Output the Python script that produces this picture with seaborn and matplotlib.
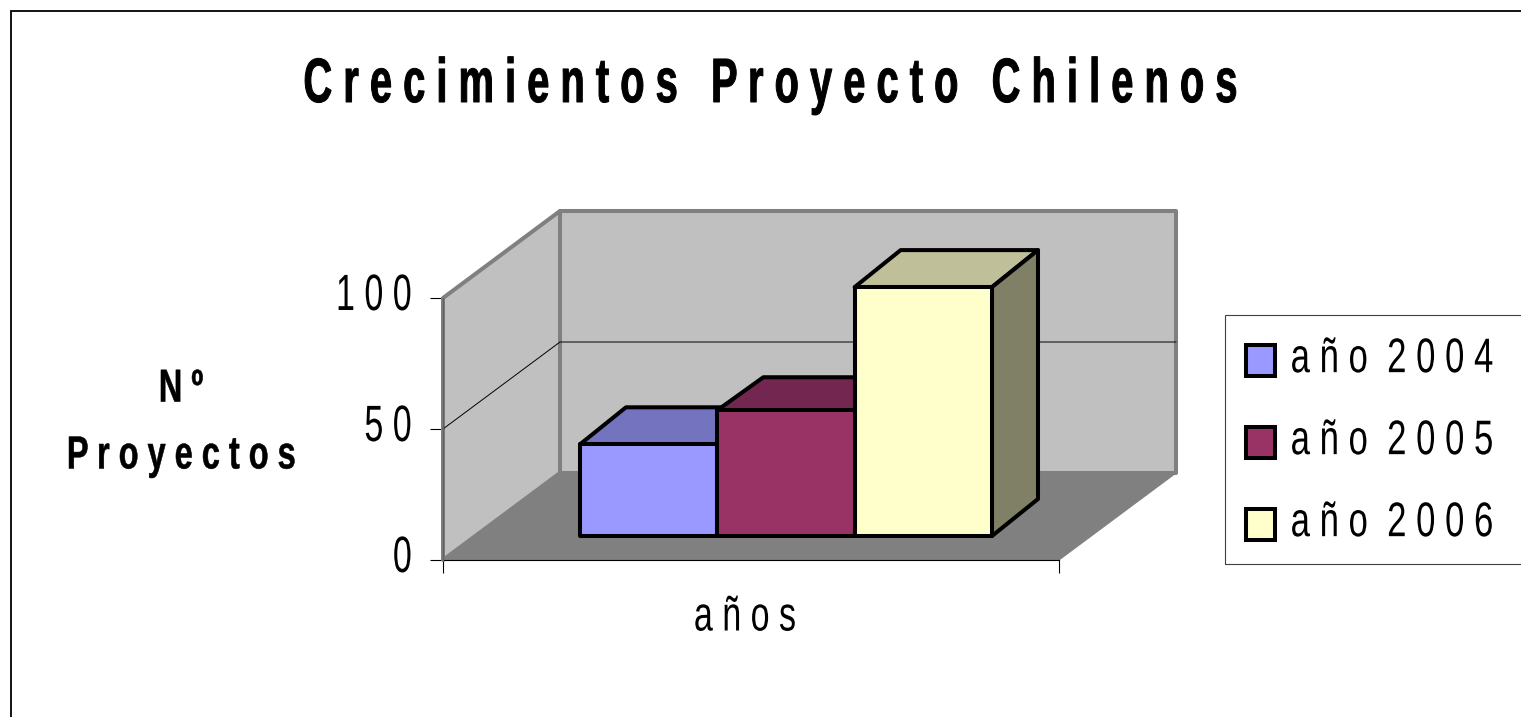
import matplotlib
matplotlib.use("Agg")
import matplotlib.pyplot as plt
from matplotlib.patches import Polygon, Rectangle
from matplotlib.patheffects import AbstractPathEffect
from matplotlib.transforms import Affine2D
import pandas as pd
import seaborn as sns

years = ["año 2004", "año 2005", "año 2006"]
values = [35, 48, 95]
colors = ["#9999FF", "#993366", "#FFFFCC"]
top_colors = ["#7373BF", "#732650", "#BFBF99"]
side_colors = ["#4D4D80", "#4D1933", "#808066"]
yticks = [0, 50, 100]
title = "Crecimientos Proyecto Chilenos"
ylabel = ["Nº", "Proyectos"]
xlabel = "años"


def spaced(s):
    return " ".join(s).replace("   ", "  ")


class Tall(AbstractPathEffect):
    """Stretch a text upward from its baseline, the way a narrow face looks."""

    def __init__(self, sy, dy=0, lw=0):
        super().__init__()
        self.sy, self.dy, self.lw = sy, dy, lw

    def draw_path(self, renderer, gc, tpath, affine, rgbFace=None):
        a = Affine2D().scale(1, self.sy) + affine + Affine2D().translate(0, self.dy)
        gc0 = renderer.new_gc()
        gc0.copy_properties(gc)
        gc0.set_linewidth(self.lw)
        if self.lw:
            gc0.set_foreground(rgbFace)
        renderer.draw_path(gc0, tpath, a, rgbFace)
        gc0.restore()


W, H = 1521, 717
sns.set_theme(style="white")
plt.rcParams["font.family"] = ["Liberation Sans", "DejaVu Sans"]

fig = plt.figure(figsize=(W / 100, H / 100), dpi=100, facecolor="white")
L, R, B, T = 443, 1059, 560, 298
ax = fig.add_axes([L / W, 1 - B / H, (R - L) / W, (B - T) / H], facecolor="none")

PX = 1 / (R - L)          # one pixel in x data units (x range is 1)
PY = 100 / (B - T)        # one pixel in y data units
wall_dx, wall_dy = 117 * PX, 87 * PY
bar_dx = 46 * PX
bar_dys = [37 * PY, 33 * PY, 37 * PY]
shift_x, shift_y = 35 * PX, 24 * PY
x0, x1 = -0.5, 0.5
EDGE = 2.9

df = pd.DataFrame({"cat": ["años"] * 3, "year": years, "value": values})
sns.barplot(data=df, x="cat", y="value", hue="year", palette=colors, saturation=1,
            width=412 / 616, gap=0, dodge=True, edgecolor="black", linewidth=EDGE,
            ax=ax, clip_on=False)
ax.set_xlim(x0, x1)
ax.set_ylim(0, 100)

# walls and floor
wall_kw = dict(clip_on=False, joinstyle="round")
ax.add_patch(Polygon([(x0 + wall_dx, wall_dy), (x1 + wall_dx, wall_dy), (x1 + wall_dx, 100 + wall_dy),
                      (x0 + wall_dx, 100 + wall_dy)], fc="#C0C0C0", ec="#808080", lw=2.9, zorder=1, **wall_kw))
ax.add_patch(Polygon([(x0, 0), (x0 + wall_dx, wall_dy), (x0 + wall_dx, 100 + wall_dy), (x0, 100)],
                     fc="#C0C0C0", ec="#808080", lw=2.9, zorder=1.1, **wall_kw))
ax.add_patch(Polygon([(x0, 0), (x1, 0), (x1 + wall_dx, wall_dy), (x0 + wall_dx, wall_dy)],
                     fc="#808080", ec="#808080", lw=0.8, zorder=1.2, **wall_kw))
# gridline on the walls
ax.plot([x0, x0 + wall_dx, x1 + wall_dx], [50, 50 + wall_dy, 50 + wall_dy], color="black", lw=0.7,
        zorder=1.3, clip_on=False)

# the bars: seaborn's front faces are lifted into the depth of the box, tops and sides added
for i, bar in enumerate(ax.patches[:3]):
    bar.set_x(bar.get_x() + shift_x)
    bar.set_y(shift_y)
    bar.set_zorder(3 + i + 0.5)
    bar.set_joinstyle("round")
    xa, xb = bar.get_x(), bar.get_x() + bar.get_width()
    yb, yt = bar.get_y(), bar.get_y() + bar.get_height()
    bar_dy = bar_dys[i]
    ax.add_patch(Polygon([(xa, yt), (xb, yt), (xb + bar_dx, yt + bar_dy), (xa + bar_dx, yt + bar_dy)],
                         fc=top_colors[i], ec="black", lw=EDGE, zorder=3 + i, clip_on=False, joinstyle="round"))
    ax.add_patch(Polygon([(xb, yb), (xb + bar_dx, yb + bar_dy), (xb + bar_dx, yt + bar_dy), (xb, yt)],
                         fc=side_colors[i], ec="black", lw=EDGE, zorder=3 + i, clip_on=False, joinstyle="round"))

# axes
sns.despine(ax=ax, top=True, right=True, left=False, bottom=False)
ax.spines["left"].set_color("#606060")
ax.spines["left"].set_linewidth(1.0)
ax.spines["bottom"].set_color("black")
ax.spines["bottom"].set_linewidth(0.8)
ax.spines["bottom"].set_zorder(2)
ax.set_xticks([x0, x1], ["", ""])
ax.set_yticks(yticks, [spaced(str(v)) for v in yticks])
ax.tick_params(axis="both", direction="out", length=9.4, width=0.8, color="black", left=True, bottom=True)
ax.tick_params(axis="y", labelsize=24.5, labelcolor="black", pad=13)
for t in ax.get_yticklabels():
    t.set_path_effects([Tall(1.5)])

ax.set_xlabel(spaced(xlabel), fontsize=24.5, color="black")
ax.xaxis.set_label_coords((745 - L) / (R - L), (B - 622) / (B - T))
ax.xaxis.label.set_verticalalignment("center")
ax.xaxis.label.set_path_effects([Tall(1.43)])

ax.set_ylabel("\n".join(spaced(s) for s in ylabel), fontsize=23.4, fontweight="bold", color="black",
              rotation=0, ha="center", va="center", linespacing=2.6)
ax.yaxis.set_label_coords((181 - L) / (R - L), (B - 427) / (B - T))
ax.yaxis.label.set_path_effects([Tall(1.42, lw=0.4)])

st = fig.suptitle(" ".join(title), x=771 / W, y=1 - 102 / H, va="baseline", ha="center",
                  fontsize=28.7, fontweight="bold", color="black")
st.set_path_effects([Tall(1.57, lw=0.7)])

# legend, with its box drawn to the reference's extent
fig.add_artist(Rectangle((1225 / W, 1 - 564 / H), 310 / W, 249 / H, transform=fig.transFigure,
                         fill=False, ec="#404040", lw=0.8, clip_on=False))
handles, labels = ax.get_legend_handles_labels()
leg = ax.legend(handles, [spaced(s) for s in labels], loc="lower left", mode="expand",
                bbox_to_anchor=(1225 / W, 1 - 564 / H, 295 / W, 249 / H), bbox_transform=fig.transFigure,
                fontsize=25, frameon=False, handlelength=0.84, handleheight=1.0, handletextpad=0.45,
                labelspacing=1.37, borderpad=0.6, borderaxespad=0, labelcolor="black", title=None)
leg.set_zorder(10)
for t in leg.get_texts():
    t.set_path_effects([Tall(1.4)])

# chart outer frame: only its left and top edges fall inside the picture
fig.add_artist(Rectangle((10.5 / W, -0.05), 1.1, 1.05 - 11.5 / H, transform=fig.transFigure,
                         fill=False, ec="black", lw=1.3, clip_on=False))

fig.savefig("out.png", dpi=100, facecolor="white")
